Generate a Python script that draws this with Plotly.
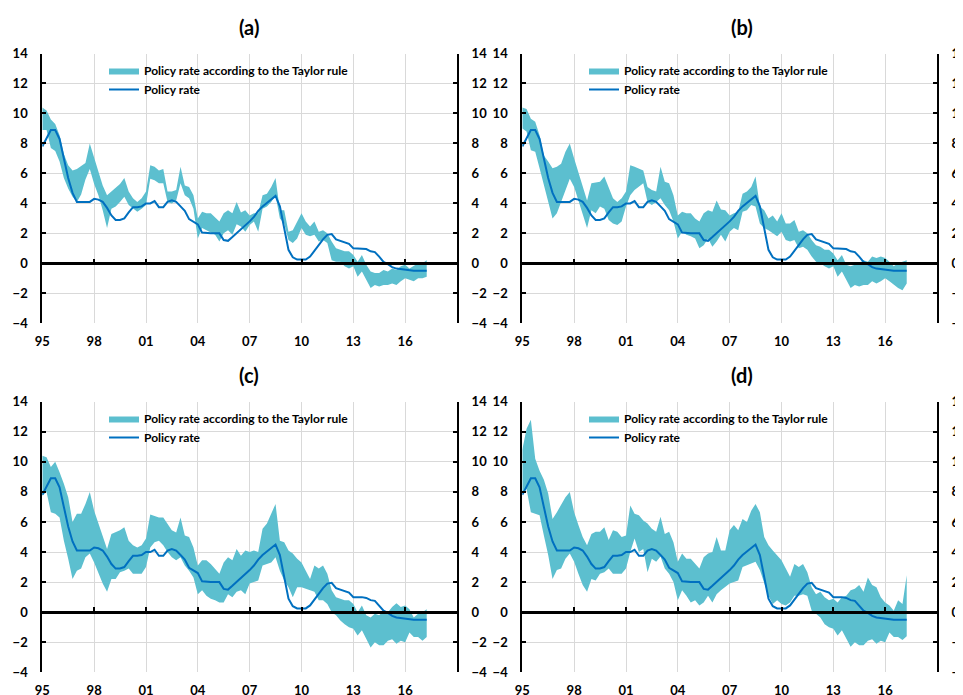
import plotly.graph_objects as go
import pandas as pd

# ---------------- data (quarterly, 1995Q1 - 2017Q2) ----------------
dates = pd.date_range("1995-01-01", periods=90, freq="QS")

tick_dates = ["1995-01-01", "1998-01-01", "2001-01-01", "2004-01-01",
              "2007-01-01", "2010-01-01", "2013-01-01", "2016-01-01"]
tick_labels = ["95", "98", "01", "04", "07", "10", "13", "16"]
y_ticks = [-4, -2, 0, 2, 4, 6, 8, 10, 12, 14]

policy_rate = [7.8, 8.4, 8.9, 8.9, 8.3, 7.0, 5.7, 4.7, 4.1, 4.1,
               4.1, 4.1, 4.3, 4.25, 4.1, 3.7, 3.2, 2.9, 2.9, 3.0,
               3.4, 3.75, 3.75, 3.8, 4.0, 4.0, 4.15, 3.75, 3.75, 4.1,
               4.2, 4.1, 3.8, 3.5, 2.95, 2.75, 2.6, 2.05, 2.0, 2.0,
               2.0, 2.0, 1.55, 1.5, 1.75, 2.0, 2.25, 2.5, 2.8, 3.1,
               3.5, 3.8, 4.05, 4.3, 4.5, 3.8, 2.2, 0.9, 0.4, 0.25,
               0.25, 0.25, 0.45, 0.85, 1.25, 1.6, 1.9, 1.95, 1.6, 1.5,
               1.4, 1.3, 1.0, 1.0, 1.0, 0.95, 0.8, 0.75, 0.45, 0.1,
               -0.05, -0.25, -0.35, -0.4, -0.45, -0.5, -0.5, -0.5, -0.5, -0.5]

a_upper = [10.4, 10.2, 9.6, 9.3, 8.55, 7.3, 6.55, 6.2, 6.3, 6.5,
           6.7, 8.0, 7.1, 6.2, 5.2, 4.55, 4.8, 5.1, 5.3, 5.7,
           4.8, 4.35, 4.1, 4.35, 4.8, 6.55, 6.45, 6.2, 6.3, 4.8,
           4.8, 4.9, 6.45, 5.2, 5.1, 4.55, 3.0, 3.45, 3.35, 3.35,
           3.1, 2.8, 3.35, 3.55, 3.35, 4.1, 3.4, 3.55, 3.2, 3.35,
           3.35, 4.55, 4.65, 5.1, 5.7, 3.55, 3.55, 2.1, 2.2, 2.8,
           3.35, 2.8, 2.45, 2.8, 2.1, 2.2, 2.0, 1.45, 1.0, 0.9,
           0.8, 0.8, 0.55, 0.1, 0.55, -0.1, -0.55, -0.65, -0.65, -0.45,
           -0.55, -0.35, -0.45, -0.2, -0.1, -0.35, -0.2, 0.0, 0.0, 0.2]
a_lower = [8.9, 8.9, 7.7, 7.5, 6.8, 5.7, 5.0, 4.45, 4.1, 4.6,
           5.6, 6.3, 5.3, 4.55, 3.55, 2.35, 3.65, 3.8, 4.1, 4.45,
           3.9, 3.65, 3.45, 3.65, 3.9, 5.65, 5.55, 5.35, 5.35, 4.1,
           4.0, 4.2, 5.35, 4.55, 4.35, 3.65, 1.65, 2.35, 2.2, 2.1,
           1.9, 1.45, 2.0, 2.2, 1.9, 2.6, 2.45, 2.1, 2.55, 2.8,
           2.1, 3.65, 3.8, 4.1, 4.55, 3.0, 2.65, 1.55, 1.35, 1.65,
           2.35, 1.9, 1.8, 1.9, 1.45, 1.55, 1.35, 0.2, 0.1, 0.1,
           -0.2, -0.35, -0.2, -0.9, -0.55, -1.1, -1.65, -1.45, -1.55, -1.45,
           -1.45, -1.35, -1.45, -1.2, -1.0, -1.1, -1.2, -1.0, -1.0, -0.9]

b_upper = [10.4, 10.3, 9.65, 9.45, 8.55, 7.2, 6.8, 6.35, 6.45, 6.65,
           7.45, 8.0, 7.0, 6.1, 5.1, 4.2, 5.35, 5.4, 5.45, 5.8,
           5.0, 4.35, 4.1, 4.35, 4.8, 6.55, 6.45, 6.3, 6.2, 5.1,
           4.9, 4.8, 6.45, 5.45, 5.35, 4.55, 3.2, 3.45, 3.35, 3.35,
           3.0, 2.8, 3.35, 3.55, 3.45, 4.2, 3.6, 3.55, 3.2, 3.35,
           3.45, 4.65, 4.8, 5.1, 5.8, 3.8, 3.55, 3.0, 3.2, 2.8,
           3.35, 2.65, 2.65, 2.9, 2.1, 2.2, 2.0, 1.55, 1.2, 1.1,
           0.9, 0.9, 0.65, 0.2, 0.55, -0.1, -0.2, -0.1, 0.0, 0.2,
           0.1, 0.45, 0.35, 0.45, 0.35, 0.1, -0.2, 0.0, 0.1, 0.2]
b_lower = [9.0, 8.8, 7.55, 7.45, 6.35, 5.2, 4.1, 3.0, 3.35, 4.1,
           4.9, 5.65, 5.1, 4.2, 3.35, 2.35, 3.55, 3.35, 3.8, 3.65,
           2.9, 2.65, 2.55, 2.8, 3.8, 4.55, 4.9, 5.1, 5.35, 4.1,
           3.9, 4.1, 4.35, 3.9, 3.55, 2.8, 1.65, 2.1, 1.9, 1.8,
           1.65, 1.0, 1.2, 1.65, 1.1, 1.45, 1.9, 1.45, 2.1, 2.35,
           2.2, 3.45, 3.55, 3.9, 3.8, 2.65, 2.35, 2.2, 2.0, 1.8,
           2.1, 1.55, 1.45, 1.55, 1.0, 1.1, 0.9, 0.45, 0.1, 0.0,
           -0.2, -0.35, -0.2, -0.9, -0.55, -1.1, -1.65, -1.45, -1.55, -1.45,
           -1.45, -1.2, -1.35, -1.2, -1.0, -1.2, -1.45, -1.65, -1.8, -1.35]

c_upper = [10.4, 10.3, 9.65, 10.0, 9.3, 8.55, 7.65, 6.0, 6.55, 6.55,
           7.2, 8.0, 6.75, 5.9, 5.0, 4.2, 5.2, 5.3, 5.45, 5.65,
           4.75, 4.45, 4.3, 4.45, 4.9, 6.5, 6.4, 6.3, 6.3, 5.9,
           5.45, 5.3, 6.3, 5.1, 5.0, 4.3, 3.1, 3.45, 3.45, 3.2,
           2.9, 2.55, 3.3, 3.65, 3.45, 4.2, 3.75, 4.1, 4.0, 4.1,
           4.0, 5.55, 5.9, 6.55, 7.2, 4.75, 4.65, 4.1, 3.9, 3.55,
           3.3, 2.75, 2.2, 3.1, 2.9, 3.1, 2.55, 1.45, 1.0, 0.9,
           0.8, 0.8, 0.55, 0.0, 0.45, -0.2, -0.35, -0.1, -0.2, 0.1,
           0.0, 0.35, 0.6, 0.35, 0.45, 0.2, -0.35, -0.1, 0.0, 0.2]
c_lower = [7.75, 8.0, 6.65, 6.55, 6.3, 4.75, 3.55, 2.2, 2.75, 2.9,
           3.65, 3.9, 3.3, 2.55, 1.9, 1.35, 2.2, 2.2, 2.65, 2.75,
           2.9, 2.55, 2.55, 2.55, 3.0, 4.3, 4.65, 4.75, 4.45, 4.0,
           3.65, 3.45, 3.65, 3.1, 2.75, 2.3, 1.2, 1.45, 1.1, 0.9,
           0.8, 0.65, 0.65, 1.2, 1.0, 1.35, 1.45, 1.2, 1.9, 2.0,
           2.1, 3.1, 3.2, 3.3, 3.65, 2.75, 2.1, 1.65, 1.0, 1.65,
           1.65, 1.55, 1.45, 1.35, 0.8, 0.8, 0.55, 0.0, -0.2, -0.55,
           -0.8, -1.0, -1.1, -1.55, -1.2, -1.8, -2.35, -2.0, -2.2, -2.2,
           -1.9, -1.8, -2.1, -1.9, -2.0, -1.35, -1.65, -1.65, -1.9, -1.65]

d_upper = [10.8, 12.2, 12.8, 10.2, 9.4, 8.8, 7.9, 6.2, 6.65, 7.2,
           7.65, 8.0, 6.65, 5.8, 5.0, 4.45, 5.2, 5.35, 5.35, 5.65,
           4.8, 5.45, 5.35, 5.0, 5.1, 7.1, 6.55, 6.45, 6.1, 5.9,
           5.55, 5.35, 6.35, 5.2, 5.35, 4.65, 3.35, 3.9, 3.55, 3.55,
           3.2, 2.9, 3.65, 3.9, 4.0, 5.0, 4.1, 4.1, 5.45, 5.8,
           5.45, 6.2, 6.0, 6.75, 7.2, 6.65, 5.0, 4.45, 4.1, 3.8,
           3.45, 2.9, 2.35, 3.2, 3.0, 3.2, 2.65, 1.65, 1.2, 1.35,
           1.0, 0.8, 0.9, 0.65, 1.0, 1.1, 1.45, 1.55, 1.8, 1.35,
           2.3, 1.8, 1.65, 1.0, 0.65, 0.45, 0.1, 0.8, 0.55, 2.45]
d_lower = [8.0, 8.2, 6.65, 6.55, 6.45, 5.1, 3.8, 2.2, 2.8, 2.9,
           3.55, 3.9, 3.35, 2.55, 1.8, 1.35, 2.2, 2.1, 2.55, 2.65,
           2.9, 2.55, 2.55, 2.55, 2.9, 4.0, 4.9, 4.0, 4.2, 2.65,
           3.55, 3.35, 3.7, 2.9, 2.55, 2.0, 0.8, 1.45, 1.1, 0.65,
           0.8, 0.45, 0.65, 1.1, 0.65, 1.2, 1.45, 1.65, 1.9, 2.0,
           2.1, 3.0, 3.1, 3.2, 3.35, 2.8, 2.0, 1.1, 0.55, 0.8,
           0.55, 0.45, 0.65, 1.1, 1.1, 1.2, 1.1, 0.1, -0.1, -0.35,
           -0.8, -1.0, -1.1, -1.55, -1.2, -1.8, -2.3, -2.0, -2.2, -2.2,
           -1.9, -1.8, -2.1, -1.9, -2.0, -1.35, -1.65, -1.65, -1.85, -1.6]

panel_titles = ["(a)", "(b)", "(c)", "(d)"]
band_name = "Policy rate according to the Taylor rule"
line_name = "Policy rate"

# ---------------- styling / geometry ----------------
# the page body has an 8px margin; positions below are given in window pixels
OFF = 8
W, H = 963, 695
BAND = "rgb(92,191,207)"
LINE = "rgb(0,112,192)"
GRID = "rgb(217,217,217)"
FONT = "Lato"
X_RANGE = ["1995-01-01", "2019-01-01"]
Y_RANGE = [-4, 14]

left_px = [42.3, 522.3, 42.3, 522.3]
right_px = [457.0, 937.0, 457.0, 937.0]
top_px = [53.5, 53.5, 401.7, 401.7]
bot_px = [323.3, 323.3, 672.3, 672.3]
title_px = [(249, 27), (742, 27), (249, 375), (742, 375)]
legend_px = [(104, 56), (584, 56), (104, 404), (584, 404)]


def px_x(v):
    return (v - OFF) / W


def px_y(v):
    return 1 - (v - OFF) / H


bands = [(a_lower, a_upper), (b_lower, b_upper), (c_lower, c_upper), (d_lower, d_upper)]

fig = go.Figure()
layout = dict(
    width=W, height=H,
    margin=dict(l=0, r=0, t=0, b=0, pad=0, autoexpand=False),
    paper_bgcolor="white", plot_bgcolor="white",
    font=dict(family=FONT, size=12, color="black"),
    showlegend=True,
    annotations=[],
)

tickfont = dict(family=FONT, size=13, color="black", weight="bold")

for k in range(1, 5):
    lo, hi = bands[k - 1]
    xs = "" if k == 1 else str(k)
    ys = xs
    xa, ya = f"x{xs}", f"y{ys}"
    xa2, ya2 = f"x{k + 4}", f"y{k + 4}"
    leg = "legend" if k == 1 else f"legend{k}"

    fig.add_trace(go.Scatter(x=dates, y=lo, xaxis=xa, yaxis=ya, mode="lines",
                             line=dict(width=0, color=BAND), showlegend=False,
                             hoverinfo="skip", legend=leg))
    fig.add_trace(go.Scatter(x=dates, y=hi, xaxis=xa, yaxis=ya, mode="lines",
                             line=dict(width=0, color=BAND), fill="tonexty",
                             fillcolor=BAND, name=band_name, legend=leg))
    fig.add_trace(go.Scatter(x=dates, y=policy_rate, xaxis=xa, yaxis=ya, mode="lines",
                             line=dict(width=2, color=LINE), name=line_name, legend=leg))
    # carriers for the right-hand axis and the zero axis
    fig.add_trace(go.Scatter(x=dates, y=policy_rate, xaxis=xa, yaxis=ya2, mode="lines",
                             line=dict(width=0, color=LINE), opacity=0, showlegend=False,
                             hoverinfo="skip"))
    fig.add_trace(go.Scatter(x=dates, y=policy_rate, xaxis=xa2, yaxis=ya, mode="lines",
                             line=dict(width=0, color=LINE), opacity=0, showlegend=False,
                             hoverinfo="skip"))

    i = k - 1
    xdom = [px_x(left_px[i]), px_x(right_px[i])]
    ydom = [px_y(bot_px[i]), px_y(top_px[i])]
    zero_pos = ydom[0] + (ydom[1] - ydom[0]) * (0 - Y_RANGE[0]) / (Y_RANGE[1] - Y_RANGE[0])

    layout[f"xaxis{xs}"] = dict(
        domain=xdom, anchor=ya, type="date", range=X_RANGE, automargin=False,
        tickmode="array", tickvals=tick_dates, ticktext=tick_labels,
        showline=False, ticks="", showgrid=True, gridcolor=GRID, gridwidth=1,
        zeroline=False, tickfont=tickfont, ticklabelstandoff=9,
    )
    layout[f"yaxis{ys}"] = dict(
        domain=ydom, anchor=xa, range=Y_RANGE, tickmode="array", tickvals=y_ticks,
        automargin=False,
        showline=True, linecolor="black", linewidth=2, ticks="inside", ticklen=4,
        tickwidth=2, tickcolor="black", showgrid=True, gridcolor=GRID, gridwidth=1,
        zeroline=False, tickfont=tickfont, ticklabelstandoff=10,
    )
    layout[f"yaxis{k + 4}"] = dict(
        overlaying=ya, side="right", anchor=xa, range=Y_RANGE, tickmode="array",
        automargin=False,
        tickvals=y_ticks, showline=True, linecolor="black", linewidth=2,
        ticks="inside", ticklen=4, tickwidth=2, tickcolor="black", showgrid=False,
        zeroline=False, tickfont=tickfont, ticklabelstandoff=10,
    )
    layout[f"xaxis{k + 4}"] = dict(
        overlaying=xa, anchor="free", position=zero_pos, type="date", range=X_RANGE,
        automargin=False,
        tickmode="array", tickvals=tick_dates, showticklabels=False,
        ticks="inside", ticklen=4, tickwidth=2, tickcolor="black",
        showline=True, linecolor="black", linewidth=2.5, showgrid=False, zeroline=False,
    )
    lx, ly = legend_px[i]
    layout[leg] = dict(
        x=px_x(lx), y=px_y(ly), xanchor="left", yanchor="top",
        bgcolor="rgba(0,0,0,0)", borderwidth=0, itemwidth=30, tracegroupgap=0,
        font=dict(family=FONT, size=12, color="black", weight="bold"),
        traceorder="normal",
    )
    tx, ty = title_px[i]
    layout["annotations"].append(dict(
        text=panel_titles[i], x=px_x(tx), y=px_y(ty), xref="paper", yref="paper",
        xanchor="center", yanchor="middle", showarrow=False,
        font=dict(family=FONT, size=20, color="black", weight="bold"),
    ))

fig.update_layout(**layout)
fig.write_html("out.html")
